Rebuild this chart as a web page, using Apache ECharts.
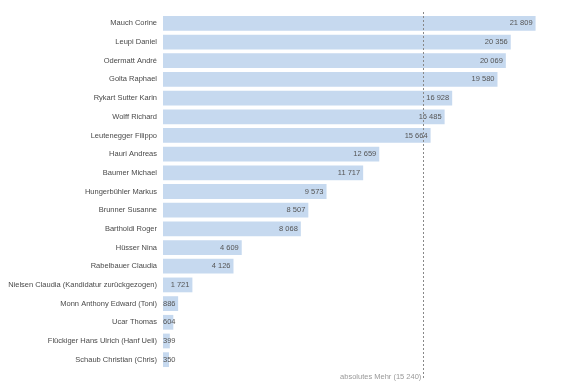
<!DOCTYPE html>
<html><head><meta charset="utf-8">
<script src="https://cdn.jsdelivr.net/npm/echarts@6/dist/echarts.min.js"></script>
<style>html,body{margin:0;padding:0;background:#fff}#c{width:582px;height:387px}</style>
</head><body><div id="c"></div>
<script>
const names = ["Mauch Corine","Leupi Daniel","Odermatt André","Golta Raphael","Rykart Sutter Karin","Wolff Richard","Leutenegger Filippo","Hauri Andreas","Baumer Michael","Hungerbühler Markus","Brunner Susanne","Bartholdi Roger","Hüsser Nina","Rabelbauer Claudia","Nielsen Claudia (Kandidatur zurückgezogen)","Monn Anthony Edward (Toni)","Ucar Thomas","Flückiger Hans Ulrich (Hanf Ueli)","Schaub Christian (Chris)"];
const votes = [21809,20356,20069,19580,16928,16485,15664,12659,11717,9573,8507,8068,4609,4126,1721,886,604,399,350];
const absMehr = 15240;
const absLabel = "absolutes Mehr (15 240)";

const fmt = v => String(v).replace(/\B(?=(\d{3})+(?!\d))/g, ' ');
const FONT = 'Liberation Sans';
const XMAX = 24000;

const data = votes.map(v => ({
  value: v,
  label: v < 1000 ? {position: 'insideLeft', distance: 0} : {}
}));

const chart = echarts.init(document.getElementById('c'), null, {renderer: 'canvas'});
chart.setOption({
  animation: false,
  textStyle: {fontFamily: FONT},
  grid: [
    {left: 163, right: 9, top: 14, bottom: 18, containLabel: false, outerBoundsMode: 'none'},
    {left: 163, right: 9, top: 12, bottom: 9, containLabel: false, outerBoundsMode: 'none'}
  ],
  xAxis: [
    {gridIndex: 0, type: 'value', min: 0, max: XMAX, show: false},
    {gridIndex: 1, type: 'value', min: 0, max: XMAX, show: false}
  ],
  yAxis: [
    {gridIndex: 0, type: 'category', data: names, inverse: true,
     axisLine: {show: false}, axisTick: {show: false}, splitLine: {show: false},
     axisLabel: {color: '#4a4a4a', fontSize: 7.5, margin: 6, fontFamily: FONT}},
    {gridIndex: 1, type: 'value', min: 0, max: 1, show: false}
  ],
  series: [
    {type: 'bar', xAxisIndex: 0, yAxisIndex: 0, data: data,
     barCategoryGap: '21%',
     itemStyle: {color: '#c6d9ef'},
     label: {show: true, position: 'insideRight', distance: 3, color: '#555', fontSize: 7.5,
       fontFamily: FONT, formatter: p => fmt(p.value)}},
    {type: 'line', xAxisIndex: 1, yAxisIndex: 1, data: [], symbol: 'none',
     markLine: {silent: true, symbol: 'none',
       lineStyle: {color: '#888', type: [2, 2], width: 1},
       label: {show: true, position: 'start', formatter: absLabel, color: '#999', fontSize: 7.5,
         fontFamily: FONT, align: 'right', verticalAlign: 'bottom', distance: 0, offset: [-2, 3]},
       data: [{xAxis: absMehr}]}}
  ]
});
</script></body></html>
